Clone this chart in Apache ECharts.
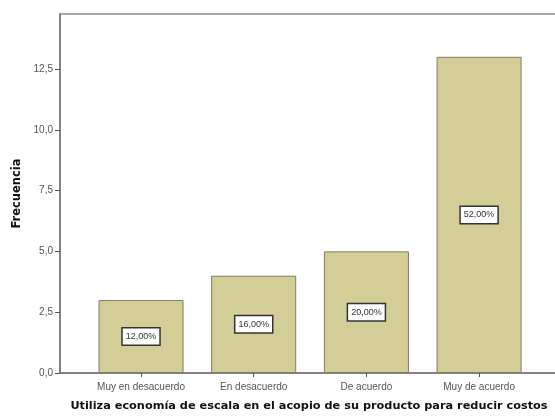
<!DOCTYPE html>
<html>
<head>
<meta charset="utf-8">
<script src="https://cdn.jsdelivr.net/npm/echarts@6/dist/echarts.min.js"></script>
<style>
  html, body { margin: 0; padding: 0; background: #fff; }
  #chart { width: 555px; height: 419px; }
</style>
</head>
<body>
<div id="chart"></div>
<script>
// Response categories and their frequencies
const categories = ['Muy en desacuerdo', 'En desacuerdo', 'De acuerdo', 'Muy de acuerdo'];
const counts = [3, 4, 5, 13];
const yTicks = [0, 2.5, 5, 7.5, 10, 12.5];
const xTitle = 'Utiliza economía de escala en el acopio de su producto para reducir costos';
const yTitle = 'Frecuencia';

const total = counts.reduce((a, b) => a + b, 0);
const fmtComma = (v, d) => v.toFixed(d).replace('.', ',');
const catIdx = categories.map((_, i) => i);

const chart = echarts.init(document.getElementById('chart'), null, { renderer: 'canvas' });

chart.setOption({
  animation: false,
  backgroundColor: '#ffffff',
  textStyle: { fontFamily: 'Liberation Sans, Arial, sans-serif' },
  title: {
    text: xTitle,
    left: 309,
    top: 401,
    textAlign: 'center',
    padding: 0,
    textStyle: { fontFamily: 'DejaVu Sans', fontWeight: 'bold', fontSize: 11.3, color: '#111' }
  },
  grid: {
    left: 60, top: 14, width: 515, height: 359,
    outerBoundsMode: 'none',
    containLabel: false,
    show: true, borderColor: '#8a8a8a', borderWidth: 1.5, backgroundColor: 'transparent'
  },
  xAxis: {
    type: 'value',
    min: -0.719,
    max: 3.851,
    splitLine: { show: false },
    axisLine: { show: true, onZero: false, lineStyle: { color: '#777', width: 1.5 } },
    axisTick: { show: true, length: 4, customValues: catIdx, lineStyle: { color: '#555' } },
    axisLabel: {
      customValues: catIdx,
      formatter: v => categories[Math.round(v)] || '',
      color: '#555', fontSize: 10, margin: 9
    }
  },
  yAxis: {
    type: 'value',
    min: 0,
    max: 14.76,
    splitLine: { show: false },
    axisLine: { show: true, onZero: false, lineStyle: { color: '#777', width: 1.5 } },
    axisTick: { show: true, length: 5, customValues: yTicks, lineStyle: { color: '#555' } },
    axisLabel: {
      customValues: yTicks,
      color: '#555', fontSize: 10, margin: 7,
      formatter: v => fmtComma(v, 1)
    },
    name: yTitle,
    nameLocation: 'middle',
    nameGap: 37,
    nameRotate: 90,
    nameTextStyle: { fontFamily: 'DejaVu Sans', fontWeight: 'bold', fontSize: 11.5, color: '#111' }
  },
  series: [{
    type: 'bar',
    data: counts.map((v, i) => [i, v]),
    barWidth: 85,
    itemStyle: { color: '#d3cd98', borderColor: '#7f7d60', borderWidth: 1 },
    label: {
      show: true,
      position: 'inside',
      formatter: p => fmtComma(p.value[1] / total * 100, 2) + '%',
      color: '#333',
      fontSize: 9,
      backgroundColor: '#ffffff',
      borderColor: '#333',
      borderWidth: 1.5,
      padding: [4, 3, 3, 3]
    }
  }]
});
</script>
</body>
</html>
